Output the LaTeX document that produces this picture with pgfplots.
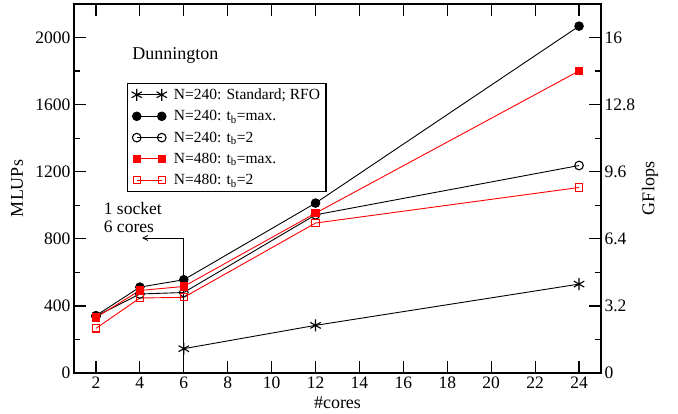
\documentclass[border=0pt]{standalone}
\usepackage{fontspec}
\setmainfont{Liberation Serif}
\usepackage{pgfplots}
\pgfplotsset{compat=1.18}
\usetikzlibrary{calc,arrows.meta}

\begin{document}
\begin{tikzpicture}
\pgfplotsset{
  frame/.style={
    scale only axis,
    width=527pt, height=369pt,
    xmin=1, xmax=25,
    tick align=inside,
    major tick length=12pt, minor tick length=6pt,
    every tick/.style={black, line width=1.2pt},
    axis line style={line width=1.8pt},
    tick label style={font=\fontsize{17.5}{19}\selectfont},
    label style={font=\fontsize{18}{20}\selectfont},
    /pgf/number format/assume math mode=true,
    /pgf/number format/set thousands separator={},
  },
  series/.style={line width=0.9pt, mark options={solid}},
}
\begin{axis}[
  frame, name=main,
  ymin=0, ymax=2200,
  xtick={2,4,...,24}, xtick pos=both, xticklabel pos=bottom,
  ytick={0,400,...,2000}, minor ytick={200,600,1000,1400,1800},
  ytick pos=left, yticklabel pos=left,
  xlabel={\#cores},
  xlabel style={at={(axis description cs:0.5,-0.081)}, anchor=center},
  ylabel={MLUPs},
  ylabel style={at={(axis description cs:-0.108,0.5)}, anchor=center},
  legend style={at={(axis description cs:0.1006,0.787)}, anchor=north west,
    draw=black, line width=1.1pt, fill=white,
    font=\fontsize{15.5}{17}\selectfont, row sep=5.5pt,
    inner xsep=4pt, inner ysep=3.5pt,
    /tikz/every odd column/.append style={column sep=5pt}},
  legend cell align=left,
  legend image code/.code={
    \draw[mark repeat=2, mark phase=1, #1]
      plot coordinates {(0pt,0pt) (12.5pt,0pt) (25pt,0pt)};
  },
]
\addplot[series, black, mark=asterisk, mark size=6pt, mark options={line width=1.1pt}]
  coordinates {(6,145) (12,284) (24,530)};
\addlegendentry{N=240: Standard; RFO}
\addplot[series, black, mark=*, mark size=4.3pt]
  coordinates {(2,342) (4,512) (6,556) (12,1013) (24,2068)};
\addlegendentry{N=240: t\textsubscript{b}=max.}
\addplot[series, black, mark=o, mark size=4.3pt, mark options={fill=white, line width=1.1pt}]
  coordinates {(2,338) (4,471) (6,480) (12,943) (24,1237)};
\addlegendentry{N=240: t\textsubscript{b}=2}
\addplot[series, red, mark=square*, mark size=3.6pt]
  coordinates {(2,331) (4,492) (6,516) (12,953) (24,1801)};
\addlegendentry{N=480: t\textsubscript{b}=max.}
\addplot[series, red, mark=square, mark size=3.6pt, mark options={fill=white, line width=1.1pt}]
  coordinates {(2,266) (4,447) (6,451) (12,894) (24,1106)};
\addlegendentry{N=480: t\textsubscript{b}=2}

\node[anchor=base west, font=\fontsize{18}{20}\selectfont]
  at (axis cs:3.5,1867) {Dunnington};
\node[anchor=west, font=\fontsize{17.5}{19}\selectfont] at (axis cs:2.2,979) {1 socket};
\node[anchor=west, font=\fontsize{17.5}{19}\selectfont] at (axis cs:2.2,872) {6 cores};
\draw[line width=0.8pt, -{Straight Barb[length=5pt,width=5pt]}]
  (axis cs:6,62) -- (axis cs:6,805) -- (axis cs:4.1,805);
\end{axis}

\begin{axis}[
  frame,
  ymin=0, ymax=17.6,
  axis x line=none, axis y line*=right,
  ytick={0,3.2,6.4,9.6,12.8,16}, minor ytick={1.6,4.8,8,11.2,14.4},
  ylabel={GFlops},
  ylabel style={at={(axis description cs:1.093,0.5)}, anchor=center, rotate=0},
]
\end{axis}

\pgfresetboundingbox
\path[use as bounding box] ($(main.south west)+(-74pt,-41pt)$) rectangle ($(main.north east)+(77pt,4pt)$);
\end{tikzpicture}
\end{document}
